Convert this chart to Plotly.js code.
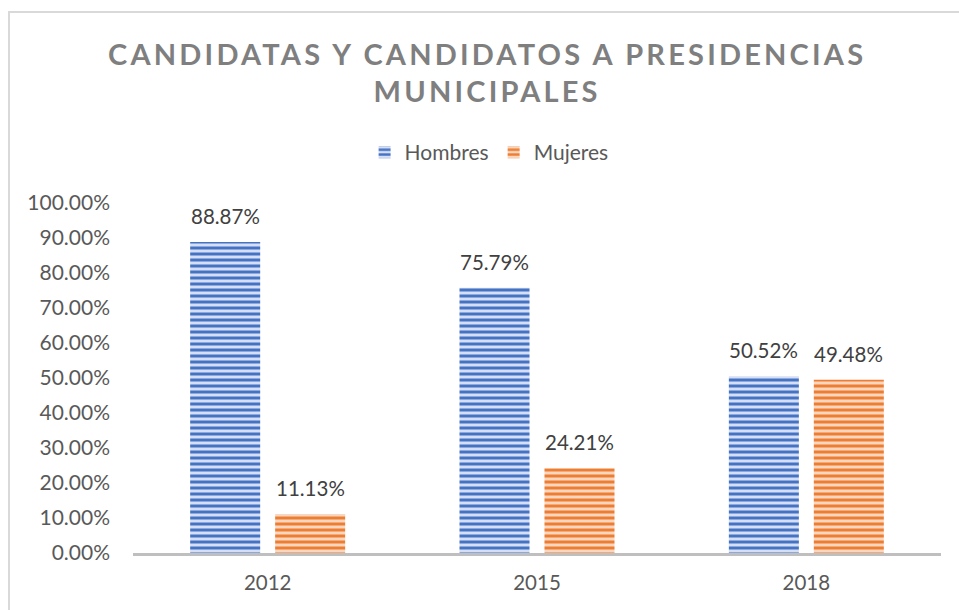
<!DOCTYPE html>
<html>
<head>
<meta charset="utf-8">
<script src="https://cdn.plot.ly/plotly-3.0.1.min.js"></script>
<style>
  html, body { margin: 0; padding: 0; background: #fff; }
  #frame { position: absolute; left: 8px; top: 11px; width: 980px; height: 620px;
           border-left: 2px solid #d9d9d9; border-top: 2px solid #d9d9d9; pointer-events: none; }
  #chart { position: absolute; left: 0; top: 0; width: 959px; height: 610px; }
</style>
</head>
<body>
<div id="chart"></div>
<div id="frame"></div>
<script>
const years = ['2012', '2015', '2018'];
const hombres = [0.8887, 0.7579, 0.5052];
const mujeres = [0.1113, 0.2421, 0.4948];
const seriesNames = ['Hombres', 'Mujeres'];
const yTicks = [0, 0.1, 0.2, 0.3, 0.4, 0.5, 0.6, 0.7, 0.8, 0.9, 1.0];

const labelFont = {family: 'Lato, sans-serif', size: 20.5, color: '#404040'};
const tickFont = {family: 'Lato, sans-serif', size: 21, color: '#595959'};
const xTickFont = {family: 'Lato, sans-serif', size: 20.5, color: '#595959'};

function pct(v) { return (v * 100).toFixed(2) + '%'; }

const traces = [
  {
    type: 'bar', name: seriesNames[0], x: years, y: hombres,
    marker: {color: '#4472C4', pattern: {shape: '-', fgcolor: '#4472C4', bgcolor: '#d5def2', size: 6, solidity: 0.5, fillmode: 'replace'}},
    hoverinfo: 'none'
  },
  {
    type: 'bar', name: seriesNames[1], x: years, y: mujeres,
    marker: {color: '#ED7D31', pattern: {shape: '-', fgcolor: '#ED7D31', bgcolor: '#f9d6bf', size: 6, solidity: 0.5, fillmode: 'replace'}},
    hoverinfo: 'none'
  }
];

const annotations = [];
years.forEach((yr, i) => {
  annotations.push({x: i, y: hombres[i], text: pct(hombres[i]), xref: 'x', yref: 'y', showarrow: false,
    xshift: -42.5, yshift: 12, yanchor: 'bottom', font: labelFont});
  annotations.push({x: i, y: mujeres[i], text: pct(mujeres[i]), xref: 'x', yref: 'y', showarrow: false,
    xshift: 42.5, yshift: 12, yanchor: 'bottom', font: labelFont});
});

const spaced = s => '<span style="letter-spacing:3.2px">' + s + '</span>';

const layout = {
  width: 959, height: 610,
  margin: {l: 133, r: 18, t: 203, b: 57},
  paper_bgcolor: '#ffffff', plot_bgcolor: '#ffffff',
  title: {
    text: spaced('CANDIDATAS Y CANDIDATOS A PRESIDENCIAS') + '<br>' + spaced('MUNICIPALES'),
    font: {family: 'Lato, sans-serif', size: 29, color: '#7f7f7f', weight: 'bold'},
    x: 0.508, xref: 'container', xanchor: 'center', y: 0.894, yref: 'container', yanchor: 'middle'
  },
  showlegend: true,
  legend: {orientation: 'h', x: 0.51, xref: 'container', xanchor: 'center', y: 0.75, yref: 'container', yanchor: 'middle',
    font: {family: 'Lato, sans-serif', size: 21, color: '#595959'}, itemwidth: 30, traceorder: 'normal'},
  barmode: 'group', bargap: 0.369, bargroupgap: 0.176,
  xaxis: {type: 'category', tickfont: xTickFont, showline: true, linecolor: '#bfbfbf', linewidth: 3,
    ticks: '', showgrid: false, zeroline: false, fixedrange: true, ticklabelstandoff: 9},
  yaxis: {range: [0, 1], tickvals: yTicks, tickformat: '.2%', tickfont: tickFont, showgrid: false,
    zeroline: false, showline: false, ticks: '', ticklabelstandoff: 22, fixedrange: true},
  annotations: annotations
};

Plotly.newPlot('chart', traces, layout, {staticPlot: true, displayModeBar: false});
</script>
</body>
</html>
